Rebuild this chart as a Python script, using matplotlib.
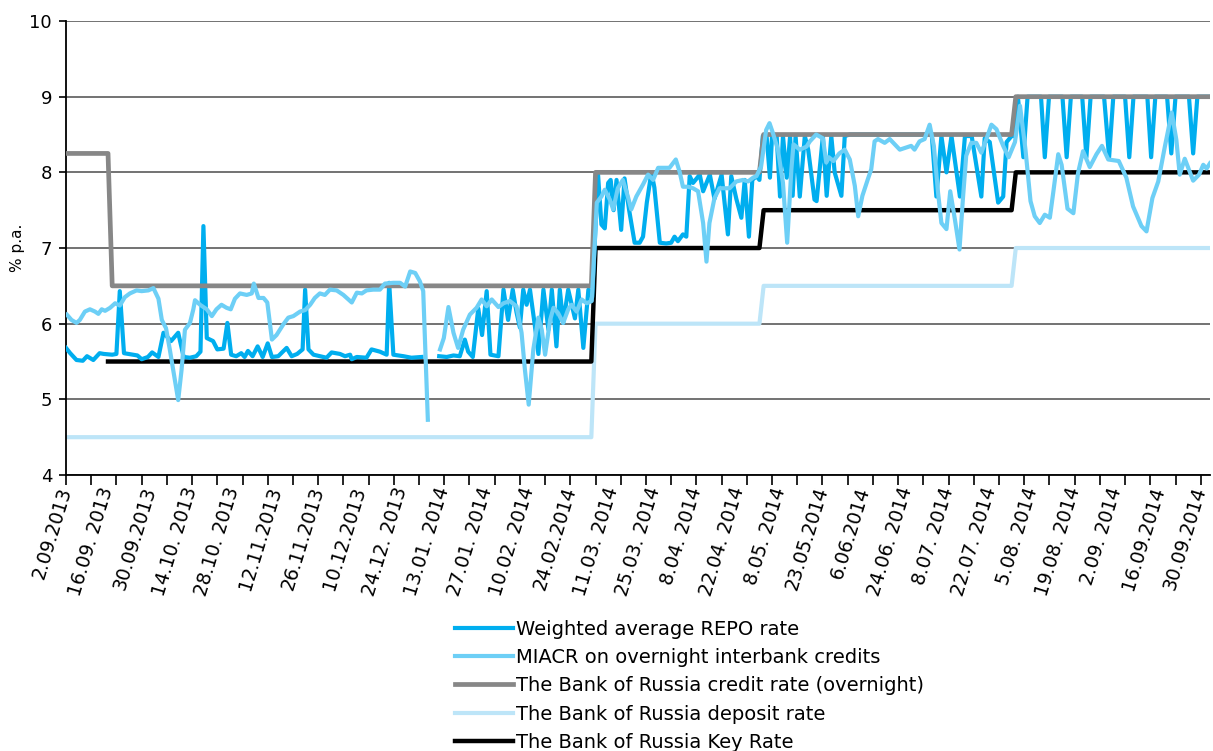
import numpy as np
import matplotlib.pyplot as plt

plt.rcParams['font.family'] = ['DejaVu Sans']

# business days 2.09.2013 .. early 10.2014, one category per day
n_days = 273
tick_labels = ['2.09.2013', '16.09. 2013', '30.09.2013', '14.10. 2013', '28.10. 2013',
               '12.11.2013', '26.11.2013', '10.12.2013', '24.12. 2013', '13.01. 2014',
               '27.01. 2014', '10.02. 2014', '24.02.2014', '11.03. 2014', '25.03. 2014',
               '8.04. 2014', '22.04. 2014', '8.05. 2014', '23.05.2014', '6.06.2014',
               '24.06. 2014', '8.07. 2014', '22.07. 2014', '5.08. 2014', '19.08. 2014',
               '2.09. 2014', '16.09.2014', '30.09.2014']

# policy rates: day index where a level starts, and the level
credit_start = [0, 11, 126, 166, 226]
credit_level = [8.25, 6.5, 8.0, 8.5, 9.0]
key_start = [10, 126, 166, 226]
key_level = [5.5, 7.0, 7.5, 8.0]
deposit_start = [0, 126, 166, 226]
deposit_level = [4.5, 6.0, 6.5, 7.0]

# weighted average REPO rate (day index, % p.a.), nan = no data
repo_day = [0, 1, 2.5, 4, 5, 6.5, 8, 9, 11, 12, 12.8, 13.8, 16, 17, 18, 19.5, 20.5, 22,
            23.2, 25, 26.7, 28, 29.5, 31, 32, 32.7, 33.5, 35, 36, 37.5, 38.4, 39.3, 40.5,
            41.7, 42.5, 43.3, 44.4, 45.6, 46.8, 48, 49, 50.5, 52.5, 53.7, 55,
            56.3, 56.9, 57.7, 58.9, 60.4, 62, 63.2, 65.2, 66.4, 67.6, 68, 69.2, 71.5, 72.7,
            74.7, 76.3, 76.9, 77.9, 80.3, 82.2, 84.6, 86.5,
            88.8, 90.6, 92.2, 93.7, 94.9, 95.7, 96.8, 98.1, 99, 100.1, 101, 102.9, 104.1,
            105.2, 106.3, 107.2, 108, 108.8, 109.6, 110.4, 111.5, 112.4, 113.6, 114.8,
            115.6, 116.7, 117.5, 118.3, 119.5, 121.1, 121.9, 123.1, 124.3, 125.2,
            126.6, 127.4, 128.2, 129, 129.6, 130.3, 131, 132.1, 132.9, 134, 135.3, 136.5,
            137.3, 138.2, 139.3, 140, 141.3, 142.8, 144, 144.8, 145.6, 146.8, 147.6, 148.4,
            149.2, 150.8, 151.6, 153.2, 154.3, 156, 157.5, 158.3, 159.5, 160.7, 161.5,
            162.5, 163.3, 164.3, 165, 165.8, 166.7, 167.5, 168, 169.1, 169.9, 170.6, 171.5,
            172.3, 172.9, 173.6, 174.6, 175.8, 176.6, 178.1, 178.6, 180.1, 181, 182.1,
            182.9, 184.5, 185.3, 186.5, 206,
            207.1, 208.3, 209.5, 210.7, 212.7, 213.9, 215.5, 217.8, 218.6, 219.8, 221.8,
            223, 223.8, 225, 225.8,
            226.5, 227.8, 228.8, 232, 232.9, 233.9, 237.1, 238.1, 239.1, 241.8, 242.8,
            243.8, 247, 248.2, 249.2, 252, 253, 254, 257.3, 258.2, 259.2, 262, 263, 264,
            267.2, 268.2, 269.2, 272]
repo_rate = [5.68, 5.61, 5.52, 5.51, 5.57, 5.52, 5.61, 5.60, 5.59, 5.60, 6.43, 5.61, 5.59,
             5.58, 5.53, 5.56, 5.62, 5.56, 5.88, 5.77, 5.88, 5.56, 5.55, 5.57, 5.63, 7.29,
             5.81, 5.77, 5.66, 5.67, 6.01, 5.59, 5.57, 5.61, 5.56, 5.64, 5.57, 5.70, 5.56,
             5.74, 5.56, 5.57, 5.68, 5.57, 5.60,
             5.66, 6.45, 5.66, 5.59, 5.57, 5.55, 5.62, 5.60, 5.57, 5.59, 5.53, 5.56, 5.55,
             5.66, 5.63, 5.59, 6.54, 5.59, 5.57, 5.55, 5.56, np.nan,
             5.57, 5.56, 5.58, 5.57, 5.79, 5.63, 5.56, 6.20, 5.85, 6.43, 5.59, 5.57, 6.45,
             6.05, 6.45, 6.15, 5.95, 6.45, 6.25, 6.45, 6.00, 5.60, 6.45, 5.92, 6.45, 5.70,
             6.45, 6.01, 6.45, 6.07, 6.45, 5.68, 6.45, 6.35,
             7.97, 7.31, 7.26, 7.86, 7.90, 7.50, 7.90, 7.24, 7.92, 7.50, 7.07, 7.07, 7.15,
             7.60, 8.00, 7.80, 7.07, 7.06, 7.07, 7.15, 7.09, 7.18, 7.15, 7.95, 7.86, 7.97,
             7.75, 7.97, 7.65, 7.97, 7.18, 7.95, 7.65, 7.40, 7.90, 7.15, 7.90, 7.95, 7.90,
             8.48, 8.48, 7.93, 8.48, 8.48, 7.68, 8.48, 7.93, 8.48, 7.69, 8.48, 7.68, 8.48,
             8.30, 7.64, 7.62, 8.48, 7.69, 8.48, 8.00, 7.69, 8.48, 8.50, 8.50,
             7.68, 8.48, 8.00, 8.48, 7.68, 8.48, 8.48, 7.68, 8.45, 8.40, 7.60, 7.68, 8.40,
             8.48, 8.48,
             9.0, 8.2, 9.0, 9.0, 8.2, 9.0, 9.0, 8.2, 9.0, 9.0, 8.2, 9.0, 9.0, 8.2, 9.0, 9.0,
             8.2, 9.0, 9.0, 8.2, 9.0, 9.0, 8.25, 9.0, 9.0, 8.25, 9.0, 9.0]

# MIACR on overnight interbank credits (day index, % p.a.)
miacr_day = [0.2, 1.3, 2.5, 3.3, 4.5, 5.7, 6.9, 7.7, 8.5, 9.3, 10.5, 11.7, 12.8, 14, 15.2,
             16.8, 18, 19.6, 20.8, 22, 22.8, 23.8, 24.7, 25.9, 26.7, 27.5, 28.3, 29.5, 30.3,
             30.7, 31.9, 33.5, 34.7, 35.8, 37, 38.2, 39.2, 40.2, 41.4, 43, 44.2, 44.7, 45.8,
             47, 47.9, 49, 50.1, 51.7, 52.9, 54.1, 55.7,
             56.9, 58.1, 59.2, 60.4, 61.6, 62.8, 64.4, 66, 67.2, 68, 69.2, 70.4, 71.5, 73.1,
             74.7, 75.9, 77.9, 79.5, 80.7, 81.9, 83.1, 84.2, 85, 86.1, 87.5,
             89, 89.9, 91, 92.2, 93.3, 94.5, 96.1, 97.7, 98.9, 100.1, 101.3, 102.9, 104.1,
             105.6, 107.2, 108.4, 109.2, 110.1, 111.2, 112.4, 113.2, 114, 115.2, 116, 117.1,
             118.3, 119.5, 120.3, 121.5, 122.7, 123.9, 125.1,
             126.3, 127.4, 128.2, 129.4, 130.2, 131.3, 132.5, 133.7, 134.5, 135.7, 137.3,
             138.5, 139.7, 140.9, 142, 143.6, 145.1, 146, 146.8, 148, 149.2, 150.4, 151.6,
             152.4, 153.1, 154.3, 155.5, 156.7, 157.9, 159.5, 161.1, 162.3, 163.5, 164.3,
             165.4, 166.6, 167.4, 168.2, 169.4, 170.6, 171.6, 172.6, 173.1, 174.6, 176.2,
             177, 178.5, 180.1, 180.9, 181.5, 182.6, 184, 185.3, 186.5, 187.7, 188.5, 189.5,
             190.8, 191.6, 192.4, 193.2, 194.8, 196, 197.2, 198.4, 200, 201.1, 201.9, 203.1,
             204.3, 205.5, 206.5, 207.5, 208.3, 209.5, 210.4, 211.5, 212.6, 213.4, 214.2,
             215.4, 216.6, 217.8, 219, 220.2, 221.4, 223, 224.3, 225.8, 227, 228.3, 229.5,
             230.5, 231.7, 232.9, 234.1, 234.9, 236.1, 236.9, 238.3, 239.7, 240.8, 242,
             243.6, 245.2, 246.5, 248, 250.5, 252.3, 253.9, 255.9, 257.1, 258.5, 259.9,
             261.5, 263.1, 264.2, 265, 266.2, 268.2, 269.6, 270.6, 271.4, 272.2]
miacr_rate = [6.12, 6.05, 6.01, 6.05, 6.16, 6.19, 6.16, 6.13, 6.19, 6.17, 6.21, 6.27, 6.24,
              6.35, 6.40, 6.44, 6.43, 6.44, 6.47, 6.33, 6.05, 5.94, 5.66, 5.26, 4.99, 5.39,
              5.92, 6.01, 6.19, 6.31, 6.25, 6.19, 6.10, 6.19, 6.25, 6.21, 6.19, 6.33, 6.40,
              6.38, 6.40, 6.53, 6.34, 6.34, 6.28, 5.79, 5.85, 5.99, 6.08, 6.10, 6.16,
              6.18, 6.25, 6.34, 6.40, 6.38, 6.45, 6.44, 6.38, 6.32, 6.28, 6.41, 6.40, 6.44,
              6.45, 6.45, 6.53, 6.54, 6.54, 6.49, 6.69, 6.67, 6.56, 6.43, 4.73, np.nan,
              5.66, 5.81, 6.22, 5.88, 5.68, 5.92, 6.12, 6.21, 6.32, 6.23, 6.32, 6.22, 6.27,
              6.30, 6.23, 5.88, 5.39, 4.93, 5.66, 6.08, 5.92, 5.59, 6.05, 6.21, 6.14, 6.01,
              6.19, 6.25, 6.16, 6.32, 6.27, 6.30,
              7.60, 7.68, 7.77, 7.64, 7.51, 7.79, 7.90, 7.68, 7.51, 7.68, 7.84, 7.97, 7.90,
              8.06, 8.06, 8.06, 8.17, 8.01, 7.81, 7.81, 7.79, 7.75, 7.33, 6.82, 7.33, 7.66,
              7.79, 7.79, 7.79, 7.88, 7.90, 7.88, 7.93, 7.95, 8.08, 8.56, 8.65, 8.52, 8.30,
              7.86, 7.07, 8.04, 8.37, 8.30, 8.34, 8.41, 8.50, 8.45, 8.13, 8.20, 8.15, 8.25,
              8.30, 8.17, 7.82, 7.42, 7.69, 7.91, 8.04, 8.41, 8.44, 8.39, 8.44, 8.37, 8.30,
              8.33, 8.35, 8.30, 8.41, 8.44, 8.63, 8.35, 7.73, 7.33, 7.25, 7.75, 7.38, 6.98,
              7.64, 8.22, 8.39, 8.39, 8.26, 8.44, 8.63, 8.57, 8.35, 8.20, 8.40, 8.88, 8.30,
              7.62, 7.42, 7.33, 7.44, 7.40, 7.73, 8.24, 8.10, 7.52, 7.46, 7.99, 8.28, 8.07,
              8.24, 8.35, 8.17, 8.15, 7.93, 7.55, 7.29, 7.22, 7.66, 7.88, 8.35, 8.79, 8.43,
              7.97, 8.18, 7.89, 7.97, 8.10, 8.05, 8.12]


def step_series(starts, levels):
    days = np.arange(n_days)
    vals = np.full(n_days, np.nan)
    for s, lev in zip(starts, levels):
        vals[days >= s] = lev
    return vals


days = np.arange(n_days)
credit = step_series(credit_start, credit_level)
key = step_series(key_start, key_level)
deposit = step_series(deposit_start, deposit_level)

fig = plt.figure(figsize=(12.13, 7.51), dpi=100)
ax = fig.add_axes([0.0544, 0.3675, 0.9431, 0.6045])

l_dep, = ax.plot(days, deposit, color='#BDE5F8', lw=3.0, zorder=2,
                 label='The Bank of Russia deposit rate')
l_key, = ax.plot(days, key, color='black', lw=3.2, zorder=3,
                 label='The Bank of Russia Key Rate')
l_repo, = ax.plot(repo_day, repo_rate, color='#00AEEF', lw=3.0, zorder=4,
                  label='Weighted average REPO rate')
l_cred, = ax.plot(days, credit, color='#878787', lw=3.4, zorder=5,
                  label='The Bank of Russia credit rate (overnight)')
l_miacr, = ax.plot(miacr_day, miacr_rate, color='#6DCFF6', lw=3.0, zorder=6,
                   label='MIACR on overnight interbank credits')

ax.set_xlim(0, 272.2)
ax.set_ylim(4, 10)
ax.set_yticks(range(4, 11))
ax.yaxis.grid(True, color='#5a5a5a', lw=1.2)
ax.set_axisbelow(True)
for side in ['top', 'right']:
    ax.spines[side].set_visible(False)
ax.spines['left'].set_linewidth(1.3)
ax.spines['bottom'].set_linewidth(1.3)
ax.tick_params(axis='y', labelsize=13, length=5, width=1.2, pad=5)
ax.set_ylabel('% p.a.', fontsize=11, labelpad=3)

# date labels every 10 days (no marks), tick marks every 6 days
ax.set_xticks(np.arange(0, 271, 10))
ax.set_xticklabels(tick_labels)
ax.set_xticks(np.arange(0, 271, 6), minor=True)
ax.xaxis.remove_overlapping_locs = False
ax.tick_params(axis='x', which='major', length=0, pad=9, labelsize=13.5,
               labelrotation=73)
ax.tick_params(axis='x', which='minor', length=7, width=1.2, direction='out')
for t in ax.xaxis.get_major_ticks():
    t.label1.set_horizontalalignment('right')
    t.label1.set_verticalalignment('center')
    t.label1.set_rotation_mode('anchor')

fig.legend(handles=[l_repo, l_miacr, l_cred, l_dep, l_key],
           loc='upper left', bbox_to_anchor=(0.375, 0.175), frameon=False,
           fontsize=14, handlelength=3.0, handletextpad=0.15, labelspacing=0.48,
           borderpad=0, borderaxespad=0)

fig.savefig('out.png', dpi=100)
